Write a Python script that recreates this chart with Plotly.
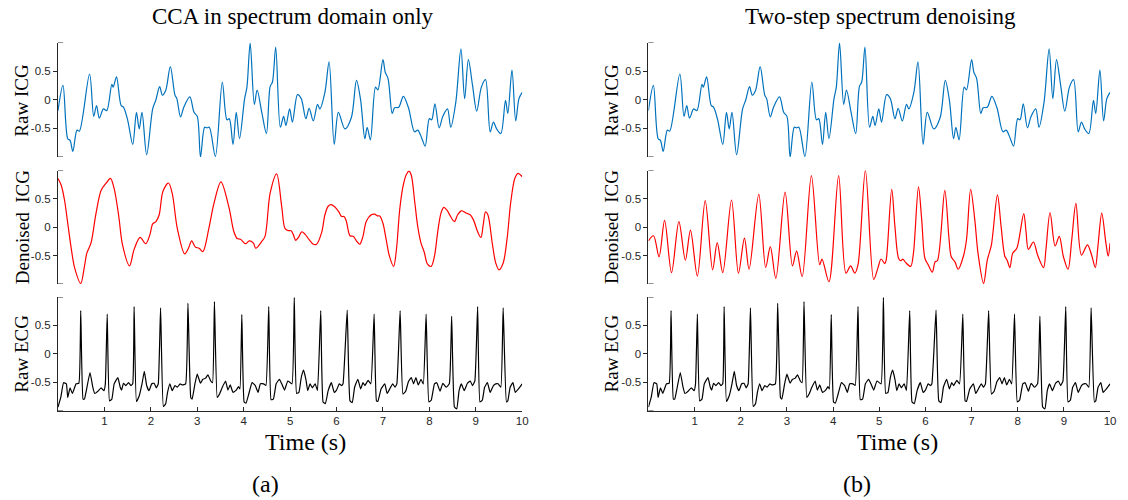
import plotly.graph_objects as go

# ---- signals (time in s, amplitude normalised) ----
icg_raw_t = [0, 0.107, 0.21, 0.26, 0.32, 0.41, 0.46, 0.68, 0.77, 0.83, 0.89, 0.98, 1.05, 1.16, 1.19,
             1.26, 1.36, 1.41, 1.5, 1.61, 1.69, 1.75, 1.81, 1.91, 2.04, 2.11, 2.19, 2.25, 2.32, 2.42,
             2.52, 2.56, 2.64, 2.71, 2.84, 2.93, 3.0, 3.07, 3.16, 3.21, 3.26, 3.39, 3.54, 3.64, 3.69,
             3.77, 3.84, 3.91, 4.02, 4.07, 4.14, 4.23, 4.29, 4.39, 4.49, 4.57, 4.62, 4.69, 4.79, 4.86,
             4.91, 4.99, 5.05, 5.16, 5.24, 5.34, 5.41, 5.5, 5.59, 5.64, 5.75, 5.84, 5.95, 6.04, 6.18,
             6.32, 6.43, 6.52, 6.61, 6.66, 6.73, 6.84, 6.89, 7.0, 7.05, 7.11, 7.2, 7.25, 7.34, 7.44,
             7.55, 7.68, 7.75, 7.84, 7.91, 8.0, 8.05, 8.12, 8.21, 8.29, 8.39, 8.46, 8.57, 8.68, 8.76,
             8.84, 8.93, 9.02, 9.12, 9.21, 9.31, 9.38, 9.45, 9.54, 9.64, 9.69, 9.78, 9.86, 9.93, 10.0]
icg_raw_v = [-0.19, 0.25, -0.68, -0.71, -0.90, -0.53, -0.55, 0.45, -0.29, -0.10, -0.32, -0.16, -0.19, 0.27, 0.22,
             0.40, -0.10, -0.13, -0.35, -0.78, -0.22, -0.51, -0.22, -0.96, -0.16, 0.0, 0.23, 0.08, 0.16, 0.58,
             0.08, 0.02, -0.30, -0.13, 0.05, -0.22, -0.29, -1.0, -0.48, -0.49, -0.48, -0.99, 0.31, -0.35, -0.33,
             -0.78, -0.22, -0.68, 0.02, 0.22, 0.99, -0.08, 0.17, -0.22, -0.59, 0.23, 0.31, 0.92, -0.48, -0.29,
             -0.45, -0.16, -0.39, 0.09, 0.02, -0.33, -0.15, -0.37, -0.08, -0.16, 0.13, 0.66, -0.78, -0.22, -0.51,
             -0.31, 0.34, -0.01, -0.68, -0.48, -0.70, 0.22, 0.17, 0.70, 0.48, 0.37, -0.24, -0.14, -0.13, 0.06,
             -0.14, -0.56, -0.53, -0.68, -0.81, -0.33, -0.35, -0.07, -0.49, -0.29, -0.16, -0.48, -0.04, 0.89, 0.02,
             0.70, 0.25, -0.20, 0.22, 0.35, -0.56, -0.39, -0.51, -0.59, -0.01, -0.24, 0.52, -0.37, 0.02, 0.13]

icg_cca_t = [0, 0.07, 0.14, 0.21, 0.29, 0.36, 0.49, 0.57, 0.62, 0.71, 0.82, 0.93, 1.04, 1.13, 1.21,
             1.31, 1.39, 1.54, 1.64, 1.77, 1.89, 1.98, 2.04, 2.11, 2.18, 2.26, 2.38, 2.46, 2.57, 2.73,
             2.81, 2.88, 2.96, 3.04, 3.12, 3.25, 3.36, 3.51, 3.68, 3.79, 3.86, 3.93, 4.04, 4.12, 4.21,
             4.26, 4.39, 4.46, 4.57, 4.71, 4.82, 4.89, 4.96, 5.02, 5.07, 5.12, 5.18, 5.25, 5.32, 5.41,
             5.5, 5.57, 5.68, 5.75, 5.82, 5.88, 5.96, 6.05, 6.11, 6.16, 6.21, 6.29, 6.36, 6.43, 6.5,
             6.57, 6.64, 6.75, 6.82, 6.88, 6.93, 7.0, 7.07, 7.14, 7.23, 7.29, 7.36, 7.43, 7.5, 7.56,
             7.61, 7.68, 7.75, 7.82, 7.89, 7.96, 8.04, 8.11, 8.18, 8.25, 8.31, 8.38, 8.45, 8.54, 8.61,
             8.69, 8.79, 8.88, 8.95, 9.04, 9.11, 9.16, 9.21, 9.26, 9.36, 9.43, 9.5, 9.59, 9.68, 9.75,
             9.84, 9.91, 10.0]
icg_cca_v = [0.86, 0.74, 0.48, 0.07, -0.40, -0.72, -0.99, -0.69, -0.46, -0.28, 0.25, 0.65, 0.78, 0.86, 0.68,
             0.19, -0.31, -0.68, -0.39, -0.18, -0.29, -0.13, 0.06, 0.10, 0.22, 0.63, 0.78, 0.60, -0.02, -0.47,
             -0.37, -0.24, -0.35, -0.37, -0.43, -0.02, 0.42, 0.80, 0.36, -0.08, -0.20, -0.21, -0.29, -0.24, -0.28,
             -0.37, -0.25, -0.16, 0.60, 0.94, 0.36, -0.02, -0.06, -0.06, -0.13, -0.23, -0.18, -0.08, -0.12, -0.22,
             -0.30, -0.30, -0.09, 0.22, 0.37, 0.40, 0.36, 0.27, 0.19, 0.19, 0.11, -0.15, -0.16, -0.24, -0.30,
             -0.16, 0.10, 0.22, 0.23, 0.20, 0.20, 0.07, -0.22, -0.51, -0.69, -0.40, 0.30, 0.71, 0.92, 0.99,
             0.92, 0.48, 0.01, -0.28, -0.44, -0.65, -0.69, -0.51, -0.08, 0.25, 0.35, 0.30, 0.20, 0.10, 0.22,
             0.29, 0.25, 0.22, 0.13, -0.08, -0.18, 0.04, 0.27, 0.22, -0.31, -0.63, -0.75, -0.63, -0.16, 0.42,
             0.86, 0.95, 0.89]

icg_two_t = [0, 0.11, 0.23, 0.35, 0.50, 0.66, 0.80, 0.91, 1.06, 1.23, 1.39, 1.49, 1.61, 1.80, 1.95,
             2.08, 2.18, 2.39, 2.54, 2.64, 2.76, 2.96, 3.12, 3.21, 3.33, 3.53, 3.71, 3.76, 3.91, 4.12,
             4.28, 4.38, 4.47, 4.54, 4.70, 4.88, 4.97, 5.04, 5.12, 5.15, 5.27, 5.34, 5.42, 5.47, 5.51,
             5.57, 5.68, 5.74, 5.85, 5.92, 5.99, 6.06, 6.15, 6.21, 6.26, 6.42, 6.51, 6.56, 6.64, 6.71,
             6.82, 6.89, 6.98, 7.07, 7.14, 7.26, 7.34, 7.43, 7.56, 7.64, 7.72, 7.77, 7.83, 7.89, 7.98,
             8.13, 8.18, 8.23, 8.34, 8.43, 8.56, 8.61, 8.70, 8.81, 8.90, 8.99, 9.09, 9.17, 9.26, 9.38,
             9.51, 9.60, 9.68, 9.74, 9.82, 9.91, 9.96, 10.0]
icg_two_v = [-0.24, -0.15, -0.52, 0.12, -0.80, 0.10, -0.58, -0.05, -0.86, 0.47, -0.75, -0.27, -0.80, 0.48, -0.81,
             -0.19, -0.74, 0.58, -0.71, -0.34, -0.90, 0.62, -0.68, -0.42, -0.87, 0.91, -0.66, -0.56, -0.96, 0.91,
             -0.81, -0.68, -0.81, -0.66, 1.0, -0.92, -0.72, -0.56, -0.64, -0.58, 0.67, 0.01, -0.55, -0.59, -0.56,
             -0.62, -0.69, -0.46, 0.71, 0.13, -0.55, -0.66, -0.79, -0.61, -0.59, 0.65, -0.19, -0.52, -0.61, -0.74,
             -0.52, -0.22, 0.67, 0.13, -0.46, -0.99, -0.58, -0.31, 0.57, 0.01, -0.51, -0.58, -0.71, -0.46, -0.37,
             0.24, -0.08, -0.39, -0.26, -0.49, -0.71, -0.40, 0.26, -0.33, -0.16, -0.52, -0.74, -0.22, 0.42, -0.49,
             -0.31, -0.49, -0.71, -0.31, 0.25, -0.28, -0.51, -0.28]

ecg_t = [0, 0.06, 0.12, 0.18, 0.21, 0.26, 0.31, 0.36, 0.39, 0.45, 0.49, 0.54, 0.57, 0.61, 0.69,
         0.75, 0.79, 0.86, 0.93, 0.99, 1.02, 1.06, 1.11, 1.16, 1.21, 1.29, 1.34, 1.37, 1.41, 1.46,
         1.52, 1.57, 1.61, 1.64, 1.69, 1.75, 1.81, 1.86, 1.91, 1.96, 2.02, 2.07, 2.12, 2.16, 2.21,
         2.27, 2.32, 2.36, 2.41, 2.46, 2.52, 2.57, 2.63, 2.68, 2.75, 2.80, 2.86, 2.89, 2.95, 3.0,
         3.07, 3.12, 3.18, 3.23, 3.29, 3.33, 3.37, 3.43, 3.48, 3.54, 3.61, 3.66, 3.71, 3.77, 3.84,
         3.89, 3.92, 3.96, 4.01, 4.05, 4.11, 4.18, 4.25, 4.31, 4.36, 4.43, 4.48, 4.54, 4.59, 4.64,
         4.70, 4.77, 4.82, 4.88, 4.95, 5.04, 5.09, 5.14, 5.19, 5.24, 5.29, 5.34, 5.38, 5.43, 5.48,
         5.54, 5.59, 5.66, 5.71, 5.76, 5.82, 5.89, 5.95, 6.0, 6.06, 6.11, 6.14, 6.23, 6.29, 6.34,
         6.39, 6.46, 6.52, 6.57, 6.61, 6.68, 6.74, 6.81, 6.86, 6.89, 6.96, 7.04, 7.09, 7.16, 7.21,
         7.26, 7.30, 7.37, 7.43, 7.49, 7.55, 7.61, 7.66, 7.71, 7.76, 7.82, 7.87, 7.93, 7.99, 8.04,
         8.11, 8.16, 8.23, 8.29, 8.36, 8.43, 8.48, 8.54, 8.59, 8.64, 8.69, 8.75, 8.82, 8.88, 8.93,
         8.98, 9.04, 9.09, 9.14, 9.19, 9.25, 9.31, 9.38, 9.43, 9.48, 9.54, 9.59, 9.66, 9.69, 9.74,
         9.80, 9.85, 9.92, 10.0]
ecg_v = [-0.94, -0.77, -0.51, -0.53, -0.77, -0.60, -0.70, -0.59, -0.53, -0.52, 0.76, -0.80, -0.80, -0.65, -0.33,
         -0.59, -0.70, -0.66, -0.60, -0.65, -0.53, 0.70, -0.83, -0.80, -0.53, -0.42, -0.59, -0.64, -0.52, -0.56,
         -0.51, -0.56, -0.53, 0.83, -0.84, -0.74, -0.53, -0.31, -0.56, -0.65, -0.53, -0.52, -0.60, -0.53, 0.81,
         -0.93, -0.88, -0.68, -0.53, -0.65, -0.56, -0.59, -0.53, -0.55, -0.53, 0.89, -0.77, -0.80, -0.53, -0.36,
         -0.52, -0.45, -0.43, -0.37, -0.48, -0.51, 0.92, -0.77, -0.71, -0.59, -0.48, -0.64, -0.55, -0.68, -0.64,
         -0.58, -0.62, 0.69, -0.85, -0.87, -0.71, -0.51, -0.56, -0.68, -0.53, -0.53, -0.56, 0.83, -0.81, -0.80,
         -0.53, -0.45, -0.53, -0.64, -0.48, -0.53, 0.99, -0.70, -0.68, -0.42, -0.29, -0.45, -0.65, -0.53, -0.60,
         -0.53, -0.65, 0.76, -0.85, -0.88, -0.65, -0.51, -0.68, -0.64, -0.53, -0.56, -0.53, 0.77, -0.83, -0.86,
         -0.59, -0.45, -0.62, -0.51, -0.56, -0.47, -0.53, 0.70, -0.83, -0.84, -0.62, -0.53, -0.70, -0.60, -0.53,
         -0.59, -0.53, 0.76, -0.71, -0.66, -0.49, -0.42, -0.53, -0.42, -0.55, -0.45, -0.53, 0.70, -0.85, -0.82,
         -0.53, -0.51, -0.66, -0.52, -0.59, -0.53, 0.66, -0.94, -0.97, -0.65, -0.53, -0.65, -0.52, -0.48, -0.56,
         -0.48, 0.83, -0.85, -0.82, -0.59, -0.51, -0.68, -0.56, -0.53, -0.53, -0.59, 0.81, -0.85, -0.83, -0.59,
         -0.51, -0.68, -0.62, -0.53]

panel_titles = ["CCA in spectrum domain only", "Two-step spectrum denoising"]
row_labels = ["Raw ICG", "Denoised  ICG", "Raw ECG"]
x_ticks = [1, 2, 3, 4, 5, 6, 7, 8, 9, 10]
y_ticks = [-0.5, 0, 0.5]
y_ticktext = ["-0.5", "0", "0.5"]

BLUE = "#0072BD"
RED = "#FF0000"
BLACK = "#000000"

W, H = 1128, 500

def px_x(p):
    return p / W

def px_y(p):
    return 1 - p / H

# horizontal extents (pixels) of the two panels, vertical extents of the three rows
col_px = [(58.3, 525.0), (651.9, 1116.0)]
row_px = [(42.5, 157.0), (170.5, 284.0), (297.0, 410.5)]

panels = [
    [(icg_raw_t, icg_raw_v, BLUE), (icg_cca_t, icg_cca_v, RED), (ecg_t, ecg_v, BLACK)],
    [(icg_raw_t, icg_raw_v, BLUE), (icg_two_t, icg_two_v, RED), (ecg_t, ecg_v, BLACK)],
]

fig = go.Figure()
layout = {}
shapes = []
annotations = []

tick_font = dict(family="Liberation Sans", size=11.5, color="#262626")
serif = "Liberation Serif"

n = 0
for c in range(2):
    for r in range(3):
        n += 1
        xa = "x" if n == 1 else f"x{n}"
        ya = "y" if n == 1 else f"y{n}"
        xkey = "xaxis" if n == 1 else f"xaxis{n}"
        ykey = "yaxis" if n == 1 else f"yaxis{n}"
        t, v, col = panels[c][r]
        smooth = 0.9 if r < 2 else 0.35
        fig.add_trace(go.Scatter(x=t, y=v, mode="lines", xaxis=xa, yaxis=ya,
                                 line=dict(color=col, width=1.2, shape="spline", smoothing=smooth),
                                 showlegend=False, hoverinfo="skip"))
        x0, x1 = col_px[c]
        y0, y1 = row_px[r]
        bottom = (r == 2)
        layout[xkey] = dict(domain=[px_x(x0), px_x(x1)], range=[0, 10], anchor=ya,
                            showgrid=False, zeroline=False,
                            showline=bottom, linecolor="#262626", linewidth=1,
                            showticklabels=bottom, ticks="inside" if bottom else "",
                            ticklen=4, tickcolor="#262626",
                            tickvals=x_ticks, ticktext=[str(k) for k in x_ticks],
                            tickfont=tick_font)
        layout[ykey] = dict(domain=[px_y(y1), px_y(y0)], range=[-1, 1], anchor=xa,
                            showgrid=False, zeroline=False,
                            showline=True, linecolor="#262626", linewidth=1,
                            ticks="outside", ticklen=4, tickcolor="#262626",
                            tickvals=y_ticks, ticktext=y_ticktext, tickfont=tick_font)
        # bracket caps at the ends of the y axis
        for yy in (-1, 1):
            shapes.append(dict(type="line", xref=f"{xa} domain", yref=ya,
                               x0=0, x1=0.011, y0=yy, y1=yy,
                               line=dict(color="#262626", width=1)))
        # row label
        lab_x = 22 if c == 0 else 615
        annotations.append(dict(text=row_labels[r], x=px_x(lab_x), y=px_y((y0 + y1) / 2),
                                xref="paper", yref="paper", showarrow=False, textangle=-90,
                                font=dict(family=serif, size=19, color="#000000"),
                                xanchor="center", yanchor="middle"))

# panel titles, x-axis titles and sub-figure captions
for c, (tx, cx, capx) in enumerate([(295, 307, 267), (885, 902, 862)]):
    annotations.append(dict(text=panel_titles[c], x=px_x(tx), y=px_y(16), xref="paper", yref="paper",
                            showarrow=False, font=dict(family=serif, size=23, color="#000000"),
                            xanchor="center", yanchor="middle"))
    annotations.append(dict(text="Time (s)", x=px_x(cx), y=px_y(442), xref="paper", yref="paper",
                            showarrow=False, font=dict(family=serif, size=24, color="#000000"),
                            xanchor="center", yanchor="middle"))
    annotations.append(dict(text="(a)" if c == 0 else "(b)", x=px_x(capx), y=px_y(484),
                            xref="paper", yref="paper", showarrow=False,
                            font=dict(family=serif, size=24, color="#000000"),
                            xanchor="center", yanchor="middle"))

fig.update_layout(width=W, height=H, margin=dict(l=0, r=0, t=0, b=0),
                  paper_bgcolor="white", plot_bgcolor="white",
                  shapes=shapes, annotations=annotations, **layout)

fig.write_html("out.html")
